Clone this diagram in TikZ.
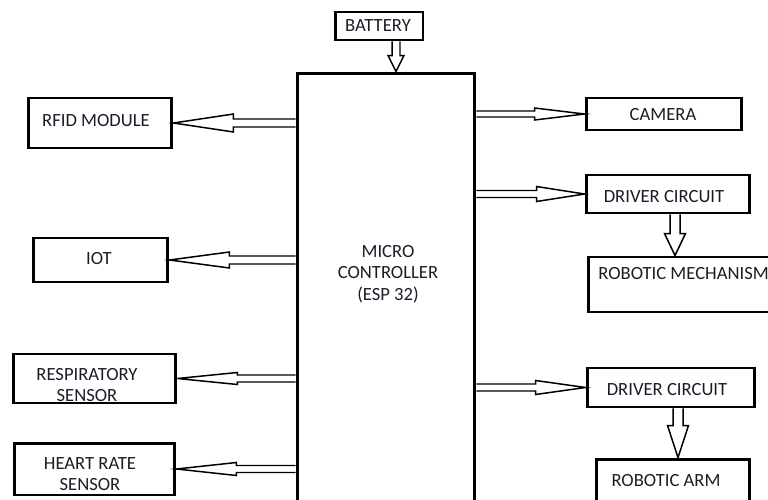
\documentclass[tikz,border=0pt]{standalone}
\usepackage{fontspec}
\setmainfont{Carlito}
\usepackage{tikz}
\usetikzlibrary{calc,positioning}
\definecolor{colink}{HTML}{1C1C28}
% hollow block arrow: from, to, shaft half width, head half width, head length
\newcommand{\fatarrow}[5]{%
  \draw[hollow] let \p1=(#1), \p2=(#2),
      \n1={veclen(\x2-\x1,\y2-\y1)}, \n2={atan2(\y2-\y1,\x2-\x1)} in
    ($(\p1)+(\n2+90:#3)$) -- ($(\p1)+(\n2:{\n1-#5})+(\n2+90:#3)$)
    -- ($(\p1)+(\n2:{\n1-#5})+(\n2+90:#4)$) -- (\p2)
    -- ($(\p1)+(\n2:{\n1-#5})+(\n2-90:#4)$) -- ($(\p1)+(\n2:{\n1-#5})+(\n2-90:#3)$)
    -- ($(\p1)+(\n2-90:#3)$);
}

\begin{document}
\begin{tikzpicture}[
  x=0.02cm, y=-0.02cm,
  font=\fontsize{10.6}{12.3}\selectfont, text=colink,
  box/.style={draw,line width=1.7pt,inner sep=0pt},
  hollow/.style={draw,line width=0.85pt,fill=white,line join=miter},
  lbl/.style={align=center,inner sep=0pt},
]
  \useasboundingbox (0,0) rectangle (768,500);
  \begin{scope}
  \clip (0,0) rectangle (768,500);
  % ---------------- centre ----------------
  \node[box,minimum width=3.56cm,minimum height=8.94cm] (mcu) at (386,296.5) {};
  \node[lbl] (mcutxt) at (388,274) {MICRO\\CONTROLLER\\(ESP 32)};
  \node[box,minimum width=1.76cm,minimum height=0.56cm] (battery) at (379,26) {};
  \node[lbl] (battxt) at (378,26) {BATTERY};
  % ---------------- left ----------------
  \node[box,minimum width=2.88cm,minimum height=1cm] (rfid) at (100,123) {};
  \node[lbl] (rfidtxt) at (96,121) {RFID MODULE};
  \node[box,minimum width=2.7cm,minimum height=0.88cm] (iot) at (100.5,260) {};
  \node[lbl] (iottxt) at (99,259) {IOT};
  \node[box,minimum width=3.26cm,minimum height=0.98cm] (resp) at (94.5,378.5) {};
  \node[lbl] (resptxt) at (87,385) {RESPIRATORY\\SENSOR};
  \node[box,minimum width=3.22cm,minimum height=1.04cm] (heart) at (94.5,469) {};
  \node[lbl] (hearttxt) at (90,474) {HEART RATE\\SENSOR};
  % ---------------- right ----------------
  \node[box,minimum width=3.12cm,minimum height=0.64cm] (camera) at (664,114) {};
  \node[lbl] (camtxt) at (663,115) {CAMERA};
  \node[box,minimum width=3.28cm,minimum height=0.76cm] (drvone) at (668,194) {};
  \node[lbl] (drvonetxt) at (664,197) {DRIVER CIRCUIT};
  \node[box,minimum width=4.04cm,minimum height=1.1cm] (mech) at (689,284.5) {};
  \node[lbl,anchor=west] (mechtxt) at (598,274) {ROBOTIC MECHANISM};
  \node[box,minimum width=3.36cm,minimum height=0.78cm] (drvtwo) at (671,387.5) {};
  \node[lbl] (drvtwotxt) at (667,390) {DRIVER CIRCUIT};
  \node[box,minimum width=3.08cm,minimum height=1.02cm] (arm) at (673,484.5) {};
  \node[lbl] (armtxt) at (666,481) {ROBOTIC ARM};
  % ---------------- arrows ----------------
  \coordinate (batout) at ($(battery.south)+(17,0)$);
  \fatarrow{batout}{batout |- mcu.north}{0.08cm}{0.16cm}{0.32cm}
  \fatarrow{rfid.east -| mcu.west}{rfid.east}{0.08cm}{0.18cm}{1.2cm}
  \fatarrow{iot.east -| mcu.west}{iot.east}{0.08cm}{0.16cm}{1.2cm}
  \fatarrow{resp.east -| mcu.west}{resp.east}{0.07cm}{0.12cm}{1.2cm}
  \fatarrow{heart.east -| mcu.west}{heart.east}{0.07cm}{0.13cm}{1.2cm}
  \fatarrow{camera.west -| mcu.east}{camera.west}{0.06cm}{0.12cm}{1.0cm}
  \fatarrow{drvone.west -| mcu.east}{drvone.west}{0.07cm}{0.15cm}{0.96cm}
  \fatarrow{drvtwo.west -| mcu.east}{drvtwo.west}{0.07cm}{0.14cm}{1.0cm}
  \coordinate (drvoneout) at ($(drvone.south)+(7,0)$);
  \fatarrow{drvoneout}{drvoneout |- mech.north}{0.1cm}{0.21cm}{0.44cm}
  \coordinate (drvtwoout) at ($(drvtwo.south)+(7,0)$);
  \fatarrow{drvtwoout}{drvtwoout |- arm.north}{0.1cm}{0.21cm}{0.64cm}
  \end{scope}
\end{tikzpicture}
\end{document}
